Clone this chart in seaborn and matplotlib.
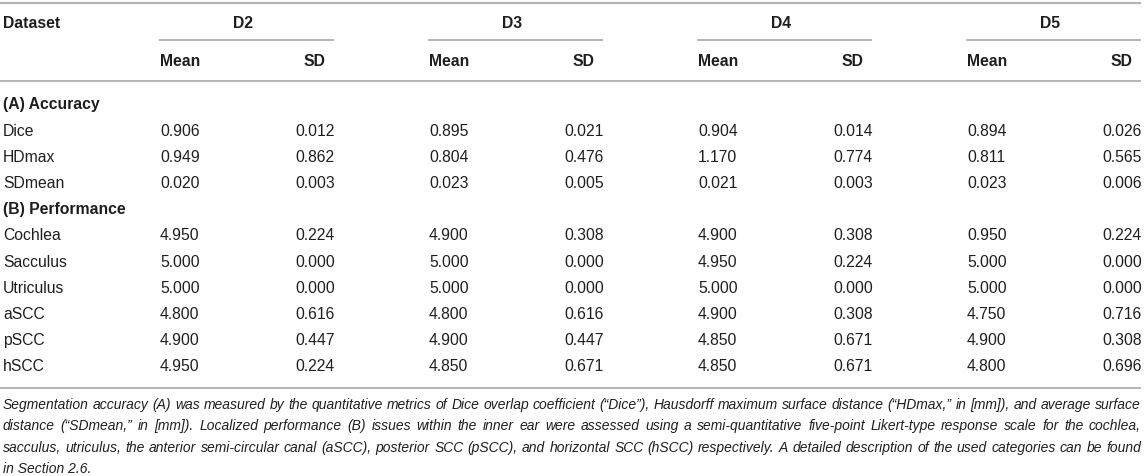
import matplotlib
matplotlib.use("Agg")
import matplotlib.pyplot as plt
import seaborn as sns

datasets = ["D2", "D3", "D4", "D5"]
accuracy_metrics = ["Dice", "HDmax", "SDmean"]
performance_regions = ["Cochlea", "Sacculus", "Utriculus", "aSCC", "pSCC", "hSCC"]

# rows: Dice, HDmax, SDmean, Cochlea, Sacculus, Utriculus, aSCC, pSCC, hSCC
d2_mean = [0.906, 0.949, 0.020, 4.950, 5.000, 5.000, 4.800, 4.900, 4.950]
d2_sd = [0.012, 0.862, 0.003, 0.224, 0.000, 0.000, 0.616, 0.447, 0.224]
d3_mean = [0.895, 0.804, 0.023, 4.900, 5.000, 5.000, 4.800, 4.900, 4.850]
d3_sd = [0.021, 0.476, 0.005, 0.308, 0.000, 0.000, 0.616, 0.447, 0.671]
d4_mean = [0.904, 1.170, 0.021, 4.900, 4.950, 5.000, 4.900, 4.850, 4.850]
d4_sd = [0.014, 0.774, 0.003, 0.308, 0.224, 0.000, 0.308, 0.671, 0.671]
d5_mean = [0.894, 0.811, 0.023, 0.950, 5.000, 5.000, 4.750, 4.900, 4.800]
d5_sd = [0.026, 0.565, 0.006, 0.224, 0.000, 0.000, 0.716, 0.308, 0.696]

caption_lines = [
    "Segmentation accuracy (A) was measured by the quantitative metrics of Dice overlap coefficient (\u201cDice\u201d), Hausdorff maximum surface distance (\u201cHDmax,\u201d in [mm]), and average surface",
    "distance (\u201cSDmean,\u201d in [mm]). Localized performance (B) issues within the inner ear were assessed using a semi-quantitative five-point Likert-type response scale for the cochlea,",
    "sacculus, utriculus, the anterior semi-circular canal (aSCC), posterior SCC (pSCC), and horizontal SCC (hSCC) respectively. A detailed description of the used categories can be found",
    "in Section 2.6.",
]

means = [d2_mean, d3_mean, d4_mean, d5_mean]
sds = [d2_sd, d3_sd, d4_sd, d5_sd]

# ---- layout ----
sns.set_theme(style="white")
plt.rcParams["font.family"] = ["Liberation Sans", "DejaVu Sans"]

W, H = 1145, 477
fig = plt.figure(figsize=(W / 100, H / 100), dpi=100)
ax = fig.add_axes([0, 0, 1, 1])
ax.set_xlim(0, W)
ax.set_ylim(H, 0)
ax.axis("off")

txt = "#1e1e1e"
rule = "#b4b4b4"
fs = 11.3
group_left = [159, 428, 697, 966]
group_w = 175

# rules
ax.plot([0, 1141], [4, 4], color=rule, lw=1.6, solid_capstyle="butt")
ax.plot([0, 1141], [82, 82], color=rule, lw=1.4, solid_capstyle="butt")
for gl in group_left:
    ax.plot([gl, gl + group_w], [41, 41], color=rule, lw=1.4, solid_capstyle="butt")

# header
ax.text(3, 24, "Dataset", fontsize=fs, fontweight="bold", color=txt, va="center")
for name, gl in zip(datasets, group_left):
    ax.text(gl + group_w / 2 - 3, 24, name, fontsize=fs, fontweight="bold", color=txt,
            va="center", ha="center")
    ax.text(gl + 1, 62, "Mean", fontsize=fs, fontweight="bold", color=txt, va="center")
    ax.text(gl + group_w - 9, 62, "SD", fontsize=fs, fontweight="bold", color=txt,
            va="center", ha="right")

# body
row_h = 26.2
y0 = 105
rows = [("(A) Accuracy", None)] + [(m, i) for i, m in enumerate(accuracy_metrics)] \
    + [("(B) Performance", None)] \
    + [(r, i + len(accuracy_metrics)) for i, r in enumerate(performance_regions)]
for k, (label, idx) in enumerate(rows):
    y = y0 + k * row_h
    if idx is None:
        ax.text(3, y, label, fontsize=fs, fontweight="bold", color=txt, va="center")
        continue
    ax.text(3, y, label, fontsize=fs, color=txt, va="center")
    for gl, mv, sv in zip(group_left, means, sds):
        ax.text(gl + 1, y, f"{mv[idx]:.3f}", fontsize=fs, color=txt, va="center")
        ax.text(gl + group_w + 1, y, f"{sv[idx]:.3f}", fontsize=fs, color=txt,
                va="center", ha="right")

y_bottom = y0 + (len(rows) - 1) * row_h + 22
ax.plot([0, 1141], [y_bottom, y_bottom], color=rule, lw=1.4, solid_capstyle="butt")

# caption, justified
cfs = 10
renderer = fig.canvas.get_renderer()
cap_y = y_bottom + 16
cap_step = 21.3
for li, line in enumerate(caption_lines):
    y = cap_y + li * cap_step
    if li == len(caption_lines) - 1:
        ax.text(3, y, line, fontsize=cfs, style="italic", color=txt, va="center")
        continue
    words = line.split(" ")
    arts = [ax.text(0, y, w, fontsize=cfs, style="italic", color=txt, va="center")
            for w in words]
    widths = [a.get_window_extent(renderer).width for a in arts]
    gap = (1141 - 3 - sum(widths)) / (len(words) - 1)
    x = 3
    for a, w in zip(arts, widths):
        a.set_x(x)
        x += w + gap

fig.savefig("out.png", dpi=100)
